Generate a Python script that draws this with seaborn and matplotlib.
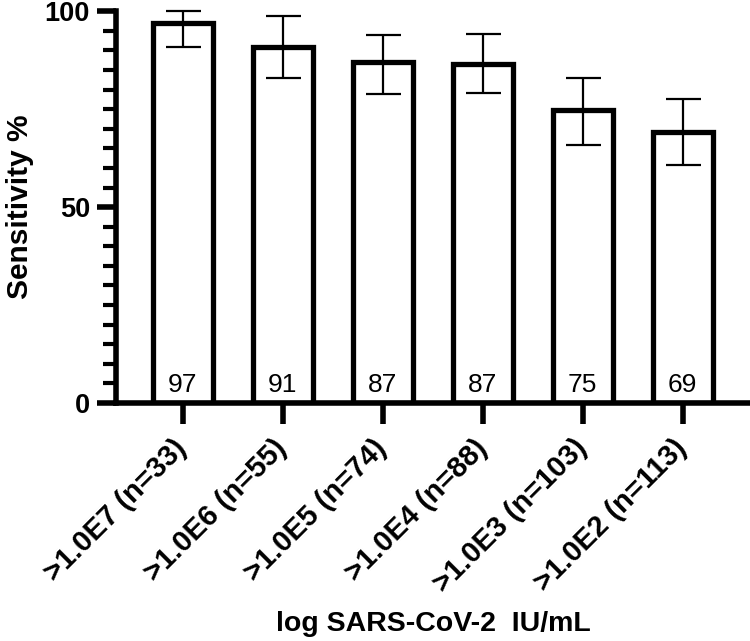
import matplotlib
matplotlib.use("Agg")
import matplotlib.pyplot as plt
import seaborn as sns
import pandas as pd
from matplotlib.ticker import MultipleLocator

categories = [">1.0E7 (n=33)", ">1.0E6 (n=55)", ">1.0E5 (n=74)",
              ">1.0E4 (n=88)", ">1.0E3 (n=103)", ">1.0E2 (n=113)"]
sensitivity = [96.9, 90.9, 87.0, 86.6, 74.8, 69.1]
ci_lower = [90.9, 83.0, 78.9, 79.0, 65.9, 60.7]
ci_upper = [100.0, 98.9, 93.9, 94.1, 83.0, 77.7]
value_labels = ["97", "91", "87", "87", "75", "69"]
y_ticks = [0, 50, 100]

sns.set_style("ticks")
plt.rcParams['font.family'] = ['Liberation Sans', 'DejaVu Sans']
plt.rcParams.update({"text.color": "black", "axes.labelcolor": "black",
                     "xtick.color": "black", "ytick.color": "black",
                     "axes.edgecolor": "black"})

W, H = 750, 641
fig = plt.figure(figsize=(W / 100, H / 100), dpi=100)
ax = fig.add_axes([116 / W, 1 - 403 / H, 1 - 116 / W, (403 - 11.2) / H])

df = pd.DataFrame({"cat": categories, "sens": sensitivity})
sns.barplot(data=df, x="cat", y="sens", color="white", saturation=1,
            edgecolor="black", linewidth=3.8, width=0.6, errorbar=None,
            ax=ax, zorder=2)

x = list(range(len(categories)))
yerr = [[s - l for s, l in zip(sensitivity, ci_lower)],
        [u - s for s, u in zip(sensitivity, ci_upper)]]
eb = ax.errorbar(x, sensitivity, yerr=yerr, fmt='none', ecolor='black',
                 elinewidth=1.6, capsize=12.6, capthick=1.6, zorder=3)
for art in eb.get_children():
    art.set_clip_on(False)

for i, lab in enumerate(value_labels):
    ax.text(i, 2.9, lab, ha='center', va='baseline', fontsize=19,
            color='black', zorder=4)

ax.set_xlim(-0.667, 5.673)
ax.set_ylim(0, 100)
ax.set_yticks(y_ticks)
ax.yaxis.set_minor_locator(MultipleLocator(5))

sns.despine(ax=ax)
for sp in ("left", "bottom"):
    ax.spines[sp].set_linewidth(4)
    ax.spines[sp].set_color("black")

ax.tick_params(axis='y', which='major', length=13.7, width=4, labelsize=19.5,
               pad=5, color='black', labelcolor='black')
ax.tick_params(axis='y', which='minor', length=9.4, width=3, color='black')
ax.tick_params(axis='x', which='major', length=15, width=4, labelsize=21,
               pad=14.5, color='black', labelcolor='black')

for t in ax.get_yticklabels():
    t.set_fontweight('bold')
ax.set_xticks(x)
ax.set_xticklabels(categories)
for t in ax.get_xticklabels():
    t.set_fontweight('bold')
    t.set_rotation(45)
    t.set_ha('right')
    t.set_va('center')
    t.set_rotation_mode('anchor')

ax.set_xlabel("log SARS-CoV-2  IU/mL", fontsize=20.5, fontweight='bold',
              color='black')
ax.xaxis.set_label_coords(0.5, -0.530)
ax.set_ylabel("Sensitivity %", fontsize=21.5, fontweight='bold',
              color='black')
ax.yaxis.set_label_coords(-0.130, 0.5)

fig.savefig("out.png", dpi=100)
